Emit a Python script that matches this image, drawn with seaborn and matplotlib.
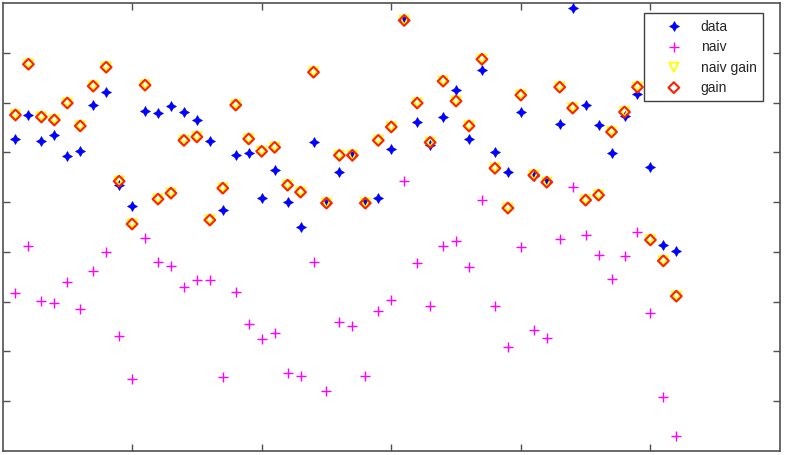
import numpy as np
import pandas as pd
import matplotlib
matplotlib.use("Agg")
import matplotlib.pyplot as plt
import seaborn as sns

x = list(range(1, 53))
data = [6.27, 6.75, 6.22, 6.35, 5.92, 6.02, 6.95, 7.21, 5.34, 4.92,
        6.83, 6.79, 6.93, 6.81, 6.65, 6.22, 4.84, 5.94, 5.98, 5.08,
        5.64, 5.00, 4.50, 6.20, 4.98, 5.60, 5.94, 5.00, 5.08, 6.06,
        8.65, 6.61, 6.14, 6.71, 7.25, 6.27, 7.65, 6.00, 5.60, 6.81,
        5.52, 5.42, 6.57, 8.90, 6.95, 6.55, 5.98, 6.73, 7.17, 5.70,
        4.14, 4.02]
naiv = [3.17, 4.12, 3.01, 2.97, 3.39, 2.85, 3.61, 4.00, 2.31, 1.45,
        4.28, 3.80, 3.71, 3.29, 3.43, 3.43, 1.49, 3.19, 2.55, 2.25,
        2.37, 1.57, 1.51, 3.80, 1.20, 2.59, 2.51, 1.51, 2.81, 3.03,
        5.42, 3.78, 2.91, 4.12, 4.22, 3.69, 5.04, 2.91, 2.09, 4.10,
        2.43, 2.27, 4.26, 5.30, 4.34, 3.94, 3.45, 3.92, 4.40, 2.77,
        1.08, 0.30]
gain = [6.75, 7.77, 6.71, 6.65, 6.99, 6.53, 7.33, 7.71, 5.42, 4.56,
        7.35, 5.06, 5.18, 6.24, 6.31, 4.64, 5.28, 6.95, 6.27, 6.02,
        6.10, 5.34, 5.20, 7.61, 4.98, 5.94, 5.94, 4.98, 6.24, 6.51,
        8.65, 6.99, 6.20, 7.43, 7.03, 6.53, 7.87, 5.68, 4.88, 7.15,
        5.54, 5.40, 7.31, 6.89, 5.04, 5.14, 6.41, 6.81, 7.31, 4.24,
        3.82, 3.11]
naiv_gain = list(gain)

sns.set_style("white")
plt.rcParams['font.family'] = ['Liberation Sans', 'DejaVu Sans']

fig = plt.figure(figsize=(7.92, 4.56), dpi=100)
ax = fig.add_axes([2.5/792, 4/456, 777.5/792, 448/456])

sns.scatterplot(x=x, y=data, ax=ax, marker=(4, 1, 0), s=50, color='#0000ff',
                edgecolor='#0000ff', linewidth=0.5, label='data', zorder=3)
sns.scatterplot(x=x, y=naiv, ax=ax, marker='+', s=55, color='#ff00ff',
                linewidth=1.0, label='naiv', zorder=3)
sns.scatterplot(x=x, y=naiv_gain, ax=ax, marker='v', s=45, facecolor='none',
                edgecolor='#ffff00', linewidth=1.3, label='naiv gain', zorder=4)
sns.scatterplot(x=x, y=gain, ax=ax, marker='D', s=30, facecolor='none',
                edgecolor='#ff2000', linewidth=1.5, label='gain', zorder=5)

ax.set_xlim(0, 60)
ax.set_ylim(0, 9)
ax.set_xticks([10, 20, 30, 40, 50])
ax.set_yticks([1, 2, 3, 4, 5, 6, 7, 8])
ax.set_xticklabels([])
ax.set_yticklabels([])
ax.tick_params(direction='in', length=5, width=1, color='#505050',
               top=True, right=True, bottom=True, left=True)
for s in ax.spines.values():
    s.set_visible(True)
    s.set_color('#505050')
    s.set_linewidth(1.2)

leg = ax.legend(loc='upper right', bbox_to_anchor=(0.978, 0.978), borderaxespad=0,
                fancybox=False, edgecolor='#404040', fontsize=10, framealpha=1,
                handletextpad=0.24, labelspacing=0.46, borderpad=0.45, handlelength=3.4)
leg.get_frame().set_linewidth(1.0)

fig.savefig('out.png', dpi=100)
